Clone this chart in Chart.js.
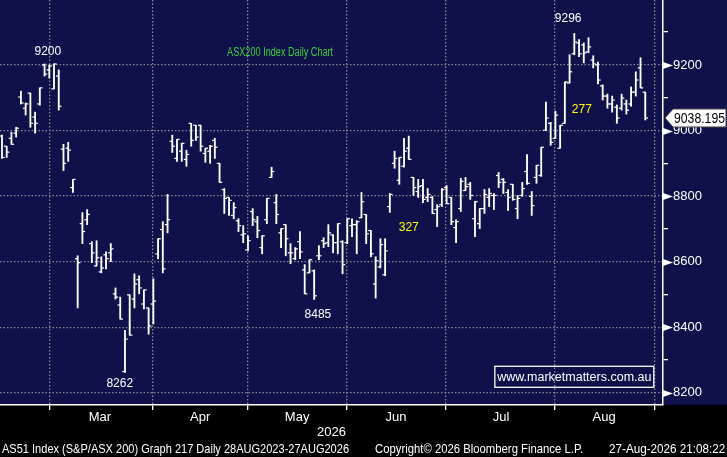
<!DOCTYPE html>
<html>
<head>
<meta charset="utf-8">
<title>ASX200 Index Daily Chart</title>
<script src="https://cdn.jsdelivr.net/npm/chart.js"></script>
<style>
  html, body { margin: 0; padding: 0; background: #000; }
  #wrap { position: relative; width: 727px; height: 457px; overflow: hidden; }
  #chart { display: block; }
  #footer span { position: absolute; top: 441px; color: #fff; white-space: nowrap;
    font: 13px 'Liberation Sans Narrow', 'Liberation Sans', sans-serif; transform-origin: left top; }
</style>
</head>
<body>
<div id="wrap">
  <canvas id="chart" width="727" height="457"></canvas>
  <div id="footer">
    <span data-x="2" data-w="347">AS51 Index (S&amp;P/ASX 200) Graph 217 Daily 28AUG2023-27AUG2026</span>
    <span data-x="375" data-w="208">Copyright© 2026 Bloomberg Finance L.P.</span>
    <span data-x="609" data-w="116">27-Aug-2026 21:08:22</span>
  </div>
</div>
<script>
// daily bars, mid Feb -> 27 Aug 2026
const opens = [
  8983, 8952, 8976, 8992, 9102, 9068, 9114, 9041, 9081, 9200,
  9185, 9127, 9166, 8943, 8946, 8826, 8609, 8716, 8728, 8655,
  8587, 8569, 8621, 8627, 8502, 8468, 8265, 8499, 8486, 8545,
  8471, 8459, 8471, 8624, 8698, 8713, 8967, 8915, 8937, 8912,
  9022, 9016, 9016, 8930, 8937, 8970, 8900, 8820, 8796, 8741,
  8725, 8682, 8636, 8753, 8722, 8643, 8728, 8857, 8780, 8688,
  8713, 8627, 8609, 8661, 8575, 8566, 8572, 8618, 8664, 8658,
  8682, 8658, 8661, 8658, 8710, 8713, 8734, 8744, 8695, 8532,
  8584, 8560, 8768, 8900, 8848, 8891, 8946, 8857, 8814, 8832,
  8796, 8796, 8759, 8774, 8826, 8796, 8704, 8762, 8817, 8836,
  8731, 8716, 8762, 8796, 8802, 8863, 8851, 8811, 8836, 8762,
  8802, 8875, 8799, 8857, 8863, 9001, 9022, 8976, 8946, 9022,
  9145, 9234, 9267, 9261, 9240, 9215, 9200, 9136, 9105, 9081,
  9071, 9068, 9081, 9081, 9117, 9191, 9117
];
const highs = [
  8986, 8952, 8995, 9010, 9120, 9084, 9114, 9056, 9130, 9203,
  9200, 9203, 9185, 8958, 8964, 8851, 8618, 8750, 8759, 8661,
  8664, 8615, 8630, 8655, 8520, 8492, 8391, 8499, 8563, 8557,
  8514, 8459, 8548, 8670, 8722, 8805, 8986, 8973, 8961, 8940,
  9022, 9016, 9016, 8946, 8955, 8976, 8900, 8823, 8796, 8780,
  8731, 8710, 8679, 8762, 8738, 8679, 8793, 8888, 8805, 8701,
  8713, 8655, 8643, 8692, 8591, 8606, 8575, 8649, 8673, 8713,
  8682, 8716, 8664, 8731, 8731, 8725, 8811, 8744, 8695, 8615,
  8670, 8670, 8808, 8937, 8918, 8976, 8983, 8857, 8851, 8851,
  8823, 8799, 8774, 8823, 8832, 8796, 8728, 8854, 8857, 8842,
  8783, 8762, 8820, 8823, 8808, 8872, 8854, 8820, 8836, 8802,
  8842, 8927, 8814, 8894, 8949, 9087, 9025, 9059, 9016, 9148,
  9231, 9296, 9277, 9267, 9283, 9228, 9209, 9139, 9111, 9105,
  9078, 9111, 9093, 9133, 9179, 9222, 9117
];
const lows = [
  8915, 8918, 8958, 8980, 9081, 9047, 9010, 8992, 9077, 9166,
  9160, 9127, 9062, 8878, 8906, 8811, 8459, 8655, 8713, 8597,
  8587, 8566, 8578, 8600, 8486, 8425, 8262, 8376, 8459, 8502,
  8456, 8379, 8410, 8609, 8566, 8688, 8933, 8906, 8906, 8891,
  8952, 8970, 8937, 8903, 8900, 8915, 8842, 8747, 8741, 8731,
  8692, 8658, 8633, 8710, 8673, 8624, 8716, 8857, 8716, 8643,
  8618, 8594, 8606, 8609, 8502, 8566, 8485, 8606, 8643, 8646,
  8627, 8624, 8563, 8655, 8676, 8624, 8734, 8655, 8615, 8489,
  8581, 8557, 8750, 8885, 8836, 8888, 8912, 8802, 8796, 8780,
  8783, 8747, 8707, 8768, 8777, 8713, 8658, 8753, 8817, 8790,
  8676, 8701, 8747, 8768, 8759, 8826, 8808, 8756, 8787, 8731,
  8799, 8836, 8741, 8839, 8860, 9001, 8955, 8976, 8946, 9022,
  9145, 9231, 9225, 9206, 9237, 9191, 9142, 9093, 9068, 9056,
  9022, 9062, 9050, 9074, 9105, 9130, 9032
];
const closes = [
  8918, 8934, 8958, 9007, 9084, 9081, 9022, 9022, 9130, 9172,
  9197, 9203, 9074, 8900, 8940, 8851, 8597, 8692, 8744, 8627,
  8612, 8581, 8609, 8639, 8492, 8425, 8364, 8376, 8532, 8520,
  8514, 8404, 8480, 8670, 8578, 8728, 8952, 8973, 8961, 8927,
  8970, 8980, 8952, 8946, 8952, 8949, 8842, 8793, 8787, 8765,
  8710, 8685, 8664, 8728, 8695, 8679, 8793, 8875, 8744, 8701,
  8670, 8627, 8639, 8630, 8502, 8606, 8496, 8618, 8655, 8688,
  8658, 8716, 8591, 8731, 8713, 8722, 8783, 8685, 8624, 8603,
  8652, 8633, 8805, 8915, 8918, 8937, 8912, 8826, 8829, 8790,
  8805, 8747, 8768, 8820, 8777, 8722, 8722, 8845, 8829, 8802,
  8783, 8762, 8805, 8808, 8802, 8842, 8842, 8796, 8790, 8793,
  8823, 8839, 8771, 8894, 8949, 9038, 8964, 9047, 9016, 9148,
  9179, 9270, 9234, 9237, 9255, 9203, 9154, 9105, 9081, 9093,
  9038, 9099, 9062, 9117, 9154, 9130, 9038.195
];
const monthLabels = ['Mar', 'Apr', 'May', 'Jun', 'Jul', 'Aug'];
const monthBounds = [10.1, 31.9, 52.0, 72.9, 93.9, 116.9, 137.9];   // bar index where each month starts
const monthMids = [20.7, 41.9, 62.4, 83.3, 105.5, 127.3];
const yTicks = [8200, 8300, 8400, 8500, 8600, 8700, 8800, 8900, 9000, 9100, 9200, 9300];
const lastPrice = 9038.195;

const NAVY = '#10104a';
const NARROW = "'Liberation Sans Narrow', 'Liberation Sans', sans-serif";
const PLAIN = "'Liberation Sans', Arial, sans-serif";

// text notes on the chart (bar index / price); w = squeeze to that width
const notes = [
  { text: '9200', i: 9.7, v: 9240, color: '#ffffff' },
  { text: '9296', i: 119.7, v: 9341, color: '#ffffff' },
  { text: '8485', i: 66.8, v: 8437, color: '#ffffff' },
  { text: '8262', i: 24.9, v: 8229, color: '#ffffff' },
  { text: '277', i: 122.6, v: 9065, color: '#ffff00' },
  { text: '327', i: 86.0, v: 8704, color: '#ffff00' },
  { text: 'ASX200 Index Daily Chart', i: 58.8, v: 9237, color: '#3ccf3c', w: 106 }
];

const idx = opens.map((_, i) => i);

// squeeze footer strings to the Bloomberg widths
document.querySelectorAll('#footer span').forEach(el => {
  el.style.left = el.dataset.x + 'px';
  el.style.transform = 'scaleX(' + (el.dataset.w / el.offsetWidth) + ')';
});

const noPad = s => { s.paddingLeft = 0; s.paddingRight = 0; s.paddingTop = 0; s.paddingBottom = 0; };

const frame = {
  id: 'frame',
  beforeDraw(chart) {
    const { ctx, chartArea, width, height } = chart;
    ctx.save();
    ctx.fillStyle = '#000';
    ctx.fillRect(0, 0, width, height);
    ctx.fillStyle = NAVY;
    ctx.fillRect(0, 0, width, chartArea.bottom);
    ctx.restore();
  },
  afterDraw(chart) {
    const { ctx, chartArea, scales: { x, y } } = chart;
    ctx.save();

    // arrow heads on labelled price levels
    ctx.fillStyle = '#fff';
    yTicks.filter(v => v % 200 === 0).forEach(v => {
      const py = Math.round(y.getPixelForValue(v)) + 0.5;
      ctx.beginPath();
      ctx.moveTo(chartArea.right, py - 3.5);
      ctx.lineTo(chartArea.right + 10, py);
      ctx.lineTo(chartArea.right, py + 3.5);
      ctx.closePath();
      ctx.fill();
    });

    // notes
    ctx.textAlign = 'center';
    ctx.textBaseline = 'middle';
    ctx.font = '12px ' + PLAIN;
    notes.forEach(n => {
      ctx.save();
      ctx.fillStyle = n.color;
      ctx.translate(x.getPixelForValue(n.i), y.getPixelForValue(n.v));
      if (n.w) ctx.scale(n.w / ctx.measureText(n.text).width, 1);
      ctx.fillText(n.text, 0, 0);
      ctx.restore();
    });

    // website box
    const bx1 = x.getPixelForValue(104.2), bx2 = x.getPixelForValue(137.8);
    const by1 = y.getPixelForValue(8281), by2 = y.getPixelForValue(8217);
    ctx.strokeStyle = '#fff';
    ctx.lineWidth = 1.3;
    ctx.strokeRect(bx1, by1, bx2 - bx1, by2 - by1);
    ctx.fillStyle = '#fff';
    ctx.font = '12.5px ' + PLAIN;
    ctx.fillText('www.marketmatters.com.au', (bx1 + bx2) / 2, (by1 + by2) / 2 + 0.5);

    // last price tag
    const py = y.getPixelForValue(lastPrice);
    const l = chartArea.right + 2;
    ctx.beginPath();
    ctx.moveTo(l, py);
    ctx.lineTo(l + 8, py - 9);
    ctx.lineTo(chart.width - 1, py - 9);
    ctx.lineTo(chart.width - 1, py + 9);
    ctx.lineTo(l + 8, py + 9);
    ctx.closePath();
    ctx.fillStyle = '#fff';
    ctx.fill();
    ctx.strokeStyle = '#444';
    ctx.lineWidth = 1;
    ctx.stroke();
    ctx.fillStyle = '#000';
    ctx.textAlign = 'left';
    ctx.font = '14px ' + NARROW;
    const label = lastPrice.toFixed(3);
    const sx = Math.min(1, 51 / ctx.measureText(label).width);
    ctx.translate(l + 9, py + 1);
    ctx.scale(sx, 1);
    ctx.fillText(label, 0, 0);

    ctx.restore();
  }
};

new Chart(document.getElementById('chart'), {
  type: 'bar',
  data: {
    datasets: [
      {
        label: 'High-Low',
        data: idx.map(i => ({ x: i, y: [lows[i], highs[i]] })),
        backgroundColor: '#ffffff',
        borderWidth: 0,
        barThickness: 1.2,
        grouped: false,
        xAxisID: 'x',
        yAxisID: 'y'
      },
      {
        type: 'scatter',
        label: 'Open',
        data: idx.map(i => ({ x: i - 0.28, y: opens[i] })),
        pointStyle: 'line',
        radius: 1.4,
        hoverRadius: 1.4,
        borderColor: '#ffffff',
        borderWidth: 1.2,
        xAxisID: 'x',
        yAxisID: 'y'
      },
      {
        type: 'scatter',
        label: 'Close',
        data: idx.map(i => ({ x: i + 0.28, y: closes[i] })),
        pointStyle: 'line',
        radius: 1.4,
        hoverRadius: 1.4,
        borderColor: '#ffffff',
        borderWidth: 1.2,
        xAxisID: 'x',
        yAxisID: 'y'
      }
    ]
  },
  options: {
    responsive: false,
    animation: false,
    layout: { autoPadding: false, padding: { left: 0, right: 0, top: 0, bottom: 17 } },
    plugins: { legend: { display: false }, tooltip: { enabled: false } },
    scales: {
      x: {
        type: 'linear',
        position: 'bottom',
        min: -0.42,
        max: 139.75,
        offset: false,
        afterBuildTicks: s => { s.ticks = monthBounds.map(v => ({ value: v })); },
        afterFit: s => { s.height = 5; noPad(s); },
        ticks: { display: false },
        grid: { offset: false, color: '#8a8a96', lineWidth: 1.3, tickColor: '#ffffff', tickLength: 5, tickWidth: 1.3 },
        border: { display: true, color: '#ffffff', width: 1.5, dash: [1.5, 2] }
      },
      x2: {
        type: 'linear',
        position: 'bottom',
        min: -0.42,
        max: 139.75,
        offset: false,
        afterBuildTicks: s => { s.ticks = monthMids.map(v => ({ value: v })); },
        afterFit: s => { s.height = 30; noPad(s); },
        grid: { display: false, drawTicks: false },
        border: { display: false },
        ticks: {
          autoSkip: false,
          maxRotation: 0,
          padding: 0,
          color: '#ffffff',
          font: { family: NARROW, size: 13 },
          callback: v => monthLabels[monthMids.indexOf(v)]
        },
        title: { display: true, text: '2026', color: '#ffffff', padding: 0, font: { family: NARROW, size: 13 } }
      },
      y: {
        type: 'linear',
        position: 'right',
        min: 8163,
        max: 9398,
        beginAtZero: false,
        afterBuildTicks: s => { s.ticks = yTicks.map(v => ({ value: v })); },
        afterFit: s => { s.width = 64; noPad(s); },
        ticks: {
          autoSkip: false,
          padding: 5,
          color: '#ffffff',
          font: { family: NARROW, size: 13 },
          callback: v => (v % 200 === 0 ? String(v) : '')
        },
        grid: {
          color: c => (c.tick && c.tick.value % 200 === 0 ? '#8a8a96' : 'rgba(0,0,0,0)'),
          lineWidth: 1.3,
          tickColor: '#ffffff',
          tickLength: 5,
          tickWidth: 1.3
        },
        border: { display: true, color: '#ffffff', width: 1.5, dash: [1.5, 2] }
      }
    }
  },
  plugins: [frame]
});
</script>
</body>
</html>
